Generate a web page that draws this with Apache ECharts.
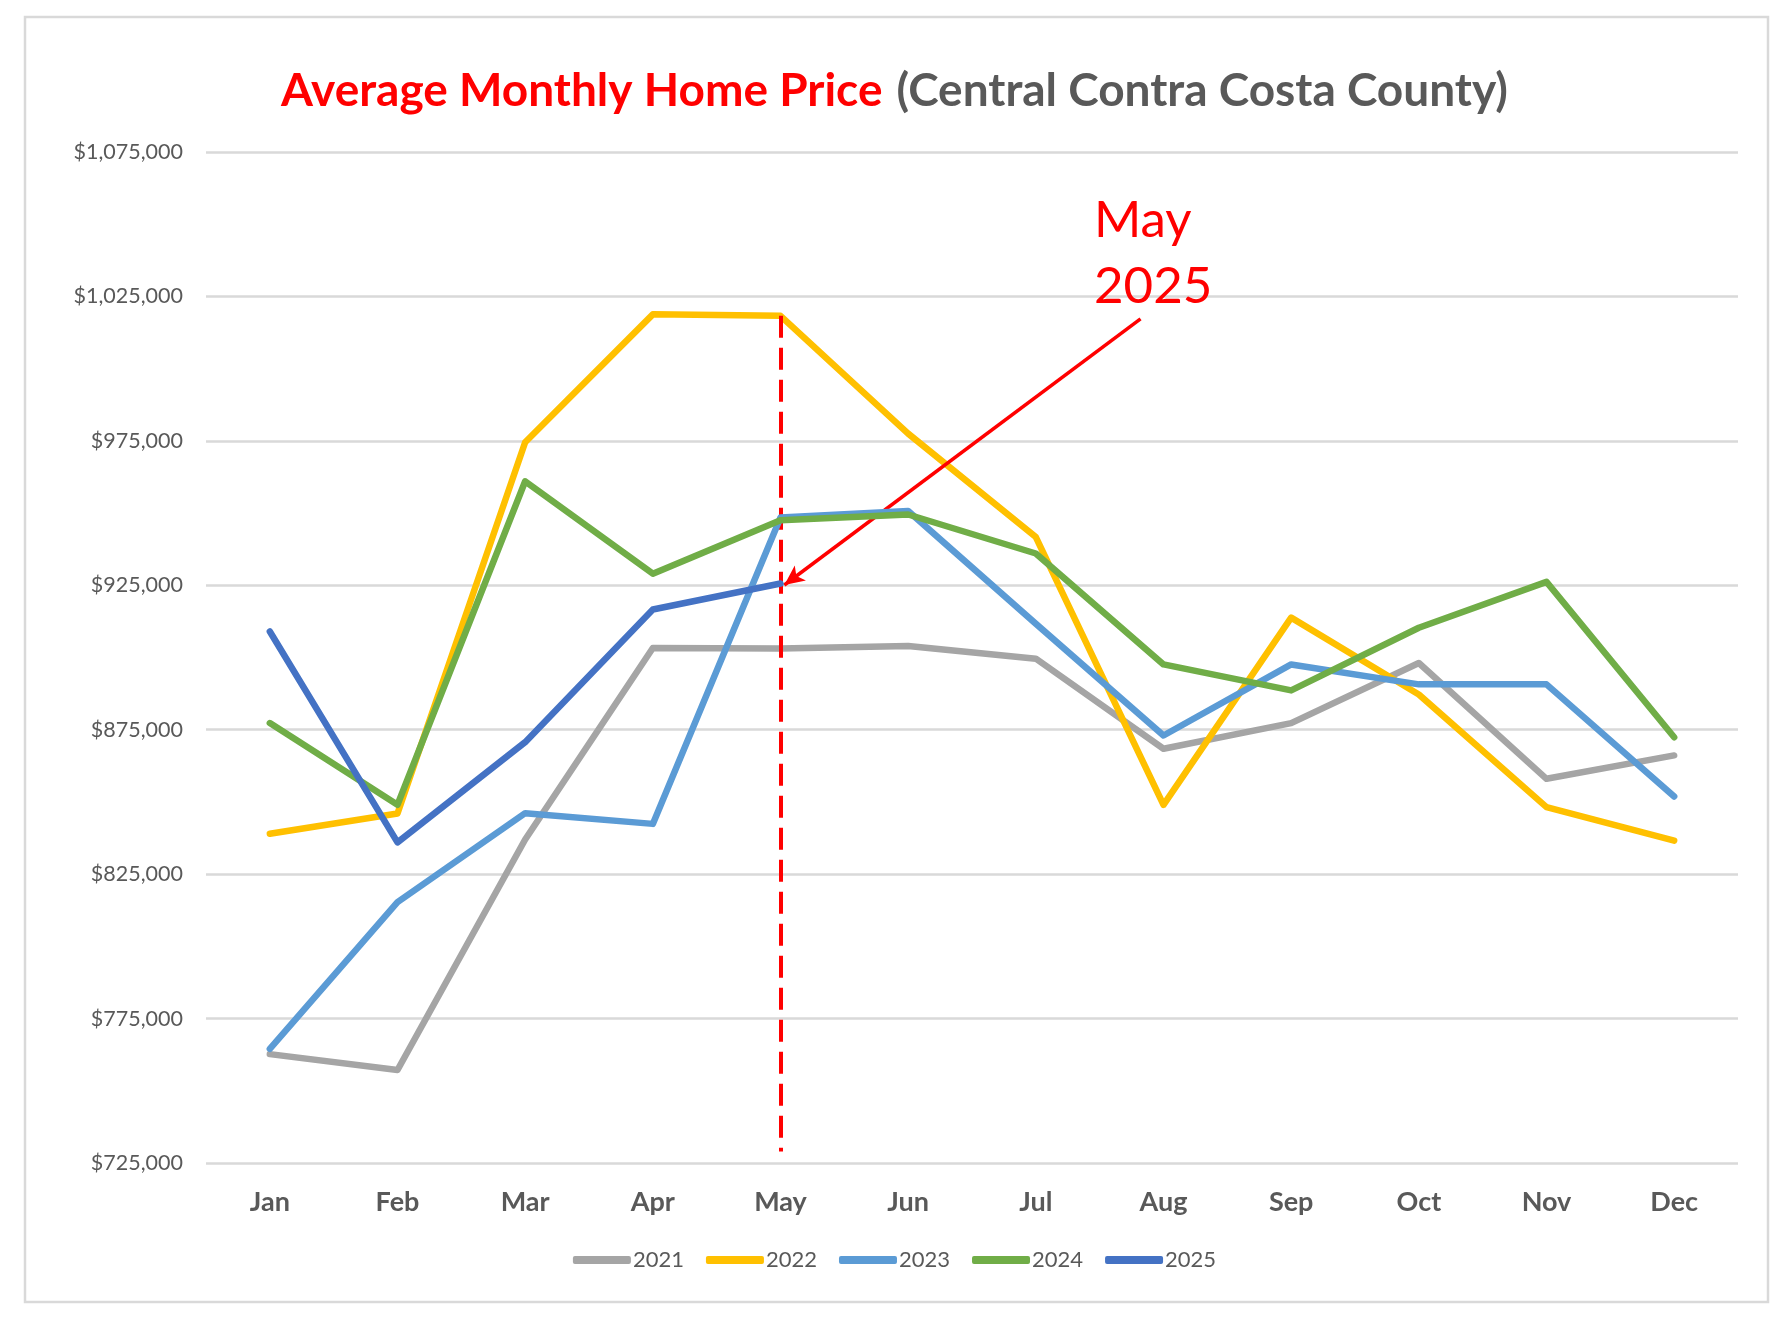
<!DOCTYPE html>
<html>
<head>
<meta charset="utf-8">
<title>Average Monthly Home Price</title>
<script src="https://cdn.jsdelivr.net/npm/echarts@6/dist/echarts.min.js"></script>
<style>
  html, body { margin: 0; padding: 0; background: #fff; }
  #chart { width: 1789px; height: 1328px; }
</style>
</head>
<body>
<div id="chart"></div>
<script>
// values
var months = ['Jan', 'Feb', 'Mar', 'Apr', 'May', 'Jun', 'Jul', 'Aug', 'Sep', 'Oct', 'Nov', 'Dec'];
var years = ['2021', '2022', '2023', '2024', '2025'];
var price2021 = [762700, 757200, 837000, 903300, 903100, 904000, 899600, 868400, 877300, 898100, 858000, 866100];
var price2022 = [839000, 846000, 974500, 1018800, 1018300, 977500, 941700, 849000, 913800, 887200, 848200, 836600];
var price2023 = [764500, 815300, 846100, 842400, 948500, 950700, 911700, 873000, 897600, 890700, 890700, 851900];
var price2024 = [877300, 849000, 961000, 929000, 947500, 949500, 936000, 897600, 888600, 910300, 926200, 872400];
var price2025 = [909000, 836000, 870700, 916600, 925600];
var yTicks = { min: 725000, max: 1075000, step: 50000 };

// annotation: dashed marker at May, arrow pointing at the May 2025 value
var markerTop = [4, 1018300];
var markerBottom = [4, 729000];
var arrowFrom = [6.82, 1017200];
var arrowTo = [4.03, 925100];

var colors = ['#A5A5A5', '#FFC000', '#5B9BD5', '#70AD47', '#4472C4'];
var font = 'Lato, "Noto Sans", sans-serif';

function money(v) {
  return '$' + v.toString().replace(/\B(?=(\d{3})+(?!\d))/g, ',');
}

function lineSeries(name, data, i) {
  return {
    name: name,
    type: 'line',
    data: data,
    showSymbol: false,
    symbol: 'none',
    color: colors[i],
    lineStyle: { width: 6.5, color: colors[i], cap: 'round', join: 'round' },
    z: 3 + i
  };
}

var chart = echarts.init(document.getElementById('chart'), null, { renderer: 'canvas' });

chart.setOption({
  animation: false,
  backgroundColor: '#fff',
  textStyle: { fontFamily: font },
  title: {
    left: 'center',
    top: 63,
    text: '{a|Average Monthly Home Price}{s| }{b|(Central Contra Costa County)}',
    textStyle: {
      rich: {
        a: { color: '#FF0000', fontSize: 46, fontWeight: 'bold', fontFamily: font },
        s: { fontSize: 46, width: 14 },
        b: { color: '#595959', fontSize: 46, fontWeight: 'bold', fontFamily: font }
      }
    }
  },
  grid: { left: 206, right: 51, top: 152, bottom: 165, containLabel: false },
  legend: {
    bottom: 52,
    left: 'center',
    data: years,
    icon: 'roundRect',
    itemWidth: 58,
    itemHeight: 8,
    itemGap: 22,
    textStyle: { color: '#595959', fontSize: 22, fontFamily: font, padding: [0, 0, 0, -3] }
  },
  xAxis: [{
    type: 'category',
    data: months,
    boundaryGap: true,
    axisLine: { show: false },
    axisTick: { show: false },
    axisLabel: { color: '#595959', fontSize: 27, fontWeight: 'bold', margin: 26, fontFamily: font }
  }, {
    type: 'value',
    min: -0.5,
    max: 11.5,
    show: false
  }],
  yAxis: {
    type: 'value',
    min: yTicks.min,
    max: yTicks.max,
    interval: yTicks.step,
    axisLine: { show: false },
    axisTick: { show: false },
    splitLine: { lineStyle: { color: '#D9D9D9', width: 2.5 } },
    axisLabel: { color: '#595959', fontSize: 21.5, margin: 23, fontFamily: font, formatter: money }
  },
  series: [
    lineSeries('2021', price2021, 0),
    lineSeries('2022', price2022, 1),
    lineSeries('2023', price2023, 2),
    lineSeries('2024', price2024, 3),
    lineSeries('2025', price2025, 4),
    {
      name: 'annotation',
      type: 'line',
      xAxisIndex: 1,
      data: [],
      silent: true,
      z: 10,
      markLine: {
        silent: true,
        animation: false,
        label: { show: false },
        emphasis: { disabled: true },
        data: [
          [
            { coord: markerTop, symbol: 'none', lineStyle: { color: '#FF0000', width: 4, type: [22, 10] } },
            { coord: markerBottom, symbol: 'none' }
          ],
          [
            { coord: arrowFrom, symbol: 'none', lineStyle: { color: '#FF0000', width: 3.5, type: 'solid' } },
            { coord: arrowTo, symbol: 'arrow', symbolSize: [14, 20] }
          ]
        ]
      }
    }
  ],
  graphic: [
    {
      type: 'rect',
      shape: { x: 25, y: 17, width: 1743, height: 1285 },
      style: { fill: 'none', stroke: '#D9D9D9', lineWidth: 2.5 },
      silent: true
    },
    {
      type: 'text',
      left: 1154 - 60,
      top: 188,
      style: {
        text: 'May\n2025',
        fill: '#FF0000',
        font: '51px ' + font,
        lineHeight: 66,
        align: 'center',
        width: 120
      },
      silent: true,
      z: 20
    }
  ]
});
</script>
</body>
</html>
